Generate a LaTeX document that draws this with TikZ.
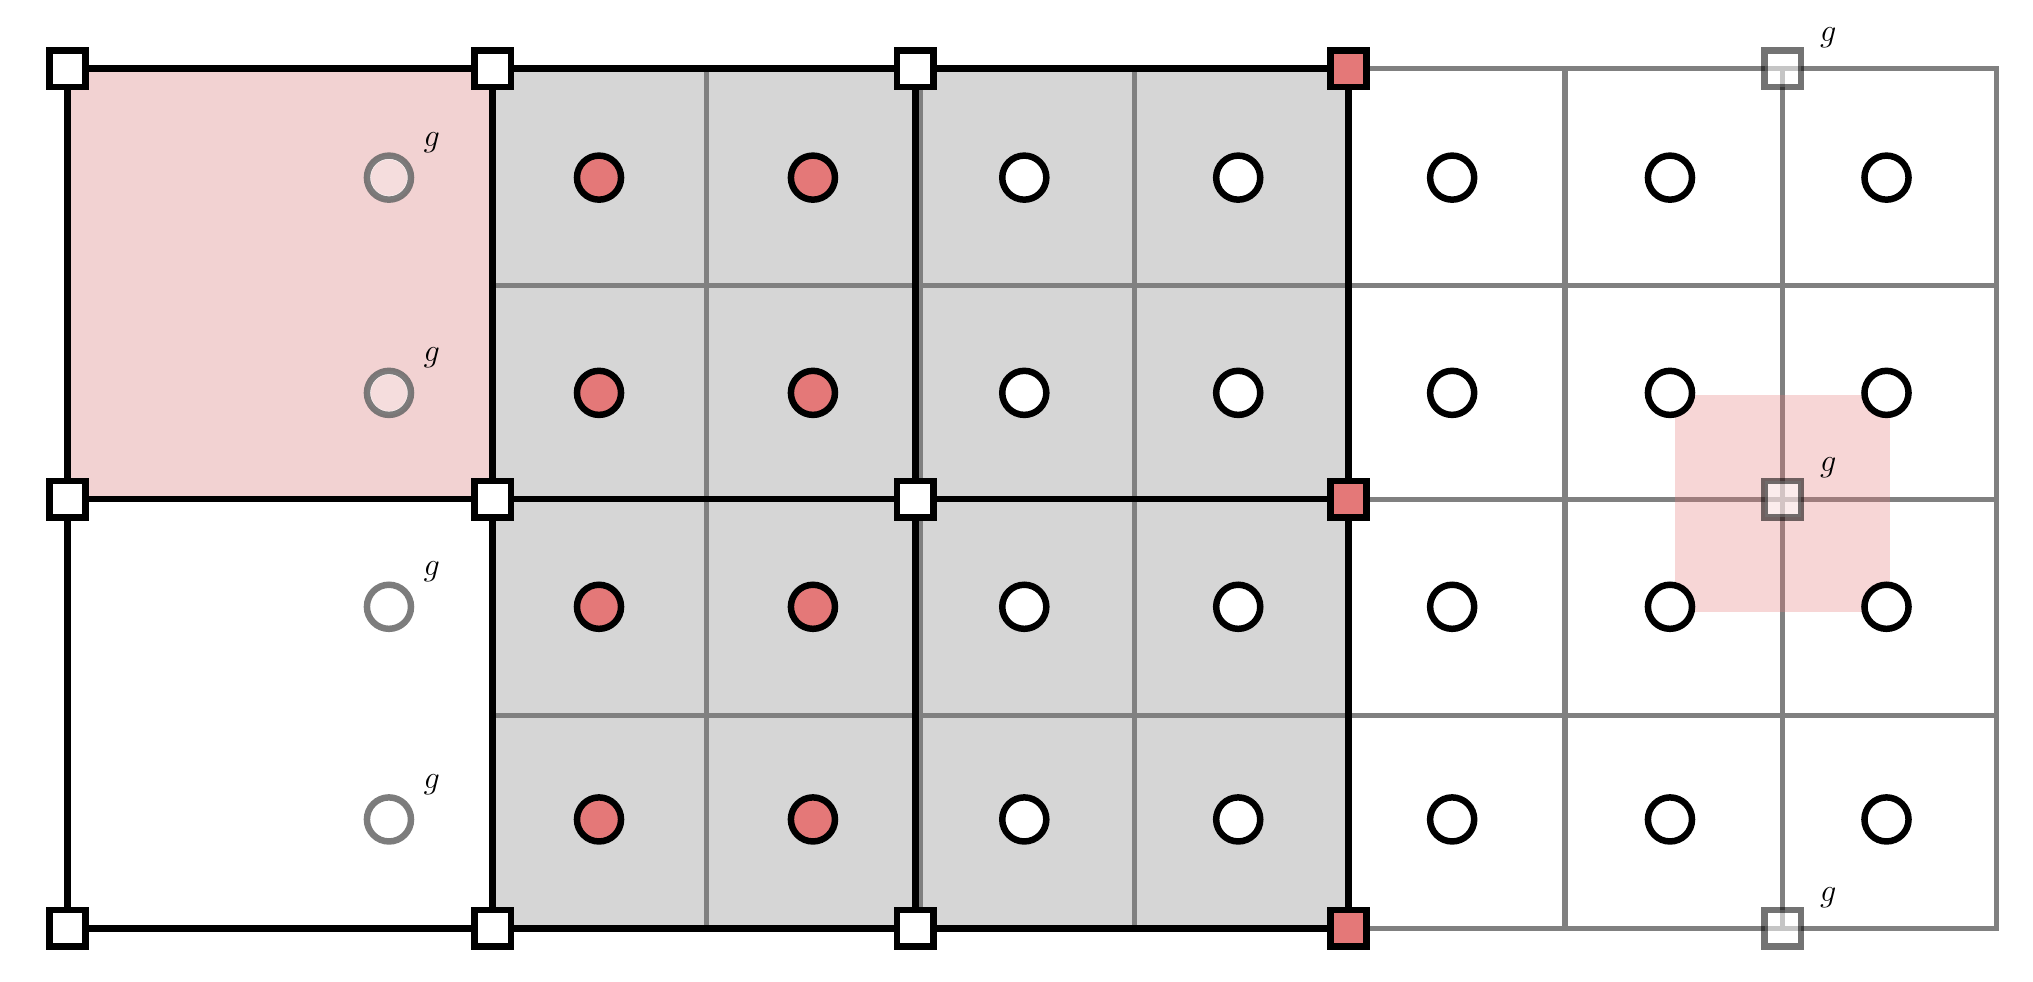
\documentclass[tikz,border=0pt]{standalone}
\begin{document}
\begin{tikzpicture}[x=1pt,y=-1pt,
  blk/.style={line width=5pt,black},
  gry/.style={line width=4pt,black!50},
  vtx/.style={draw=black,line width=5pt,fill=white,minimum size=28pt,inner sep=0pt,rectangle},
  rvtx/.style={vtx,fill=red1},
  gvtx/.style={vtx,draw=black,fill=white,opacity=0.55},
  dot/.style={draw=black,line width=5pt,fill=white,circle,minimum size=34pt,inner sep=0pt},
  rdot/.style={dot,fill=red1},
  gdot/.style={dot,draw=black!60,fill=white,opacity=0.85},
  glab/.style={font=\fontsize{38}{38}\selectfont,inner sep=0pt}]
\definecolor{red1}{RGB}{228,120,120}
\definecolor{pink1}{RGB}{242,210,210}
\definecolor{grayf}{RGB}{214,214,214}
\useasboundingbox (0,0) rectangle (1568,757);
\fill[pink1] (52,53) rectangle (380,385);
\fill[grayf] (380,53) rectangle (1040,716);
% fine grid
\foreach \x in {545,875,1207,1375} \draw[gry] (\x,53) -- (\x,716);
\foreach \x in {710} \draw[gry] (\x,53) -- (\x,716);
\foreach \y in {220,385,552} \draw[gry] (380,\y) -- (1540,\y);
\draw[gry] (1040,53) -- (1540,53) -- (1540,716) -- (1040,716);
% coarse grid
\foreach \x in {52,380,706,1040} \draw[blk] (\x,53) -- (\x,716);
\foreach \y in {53,385,716} \draw[blk] (52,\y) -- (1040,\y);
% pink overlay square
\fill[red1,opacity=0.3] (1292,305) rectangle (1458,472);
% circles
\foreach \y [count=\j] in {137,303,468,632}{
  \foreach \x [count=\i] in {462,627} \node[rdot] (r\i\j) at (\x,\y) {};
  \foreach \x [count=\i] in {790,955,1120,1288,1455} \node[dot] (w\i\j) at (\x,\y) {};
  \node[gdot] (g\j) at (300,\y) {};
  \node[glab] at (333,\y-27) {$g$};
}
\fill[pink1,opacity=0.7] (g1) circle (14pt) (g2) circle (14pt);
% vertices
\foreach \y [count=\j] in {53,385,716}{
  \foreach \x [count=\i] in {52,380,706} \node[vtx] (v\i\j) at (\x,\y) {};
  \node[rvtx] (rv\j) at (1040,\y) {};
  \node[gvtx] (gv\j) at (1375,\y) {};
  \node[glab] at (1410,\y-24) {$g$};
}
\end{tikzpicture}
\end{document}
